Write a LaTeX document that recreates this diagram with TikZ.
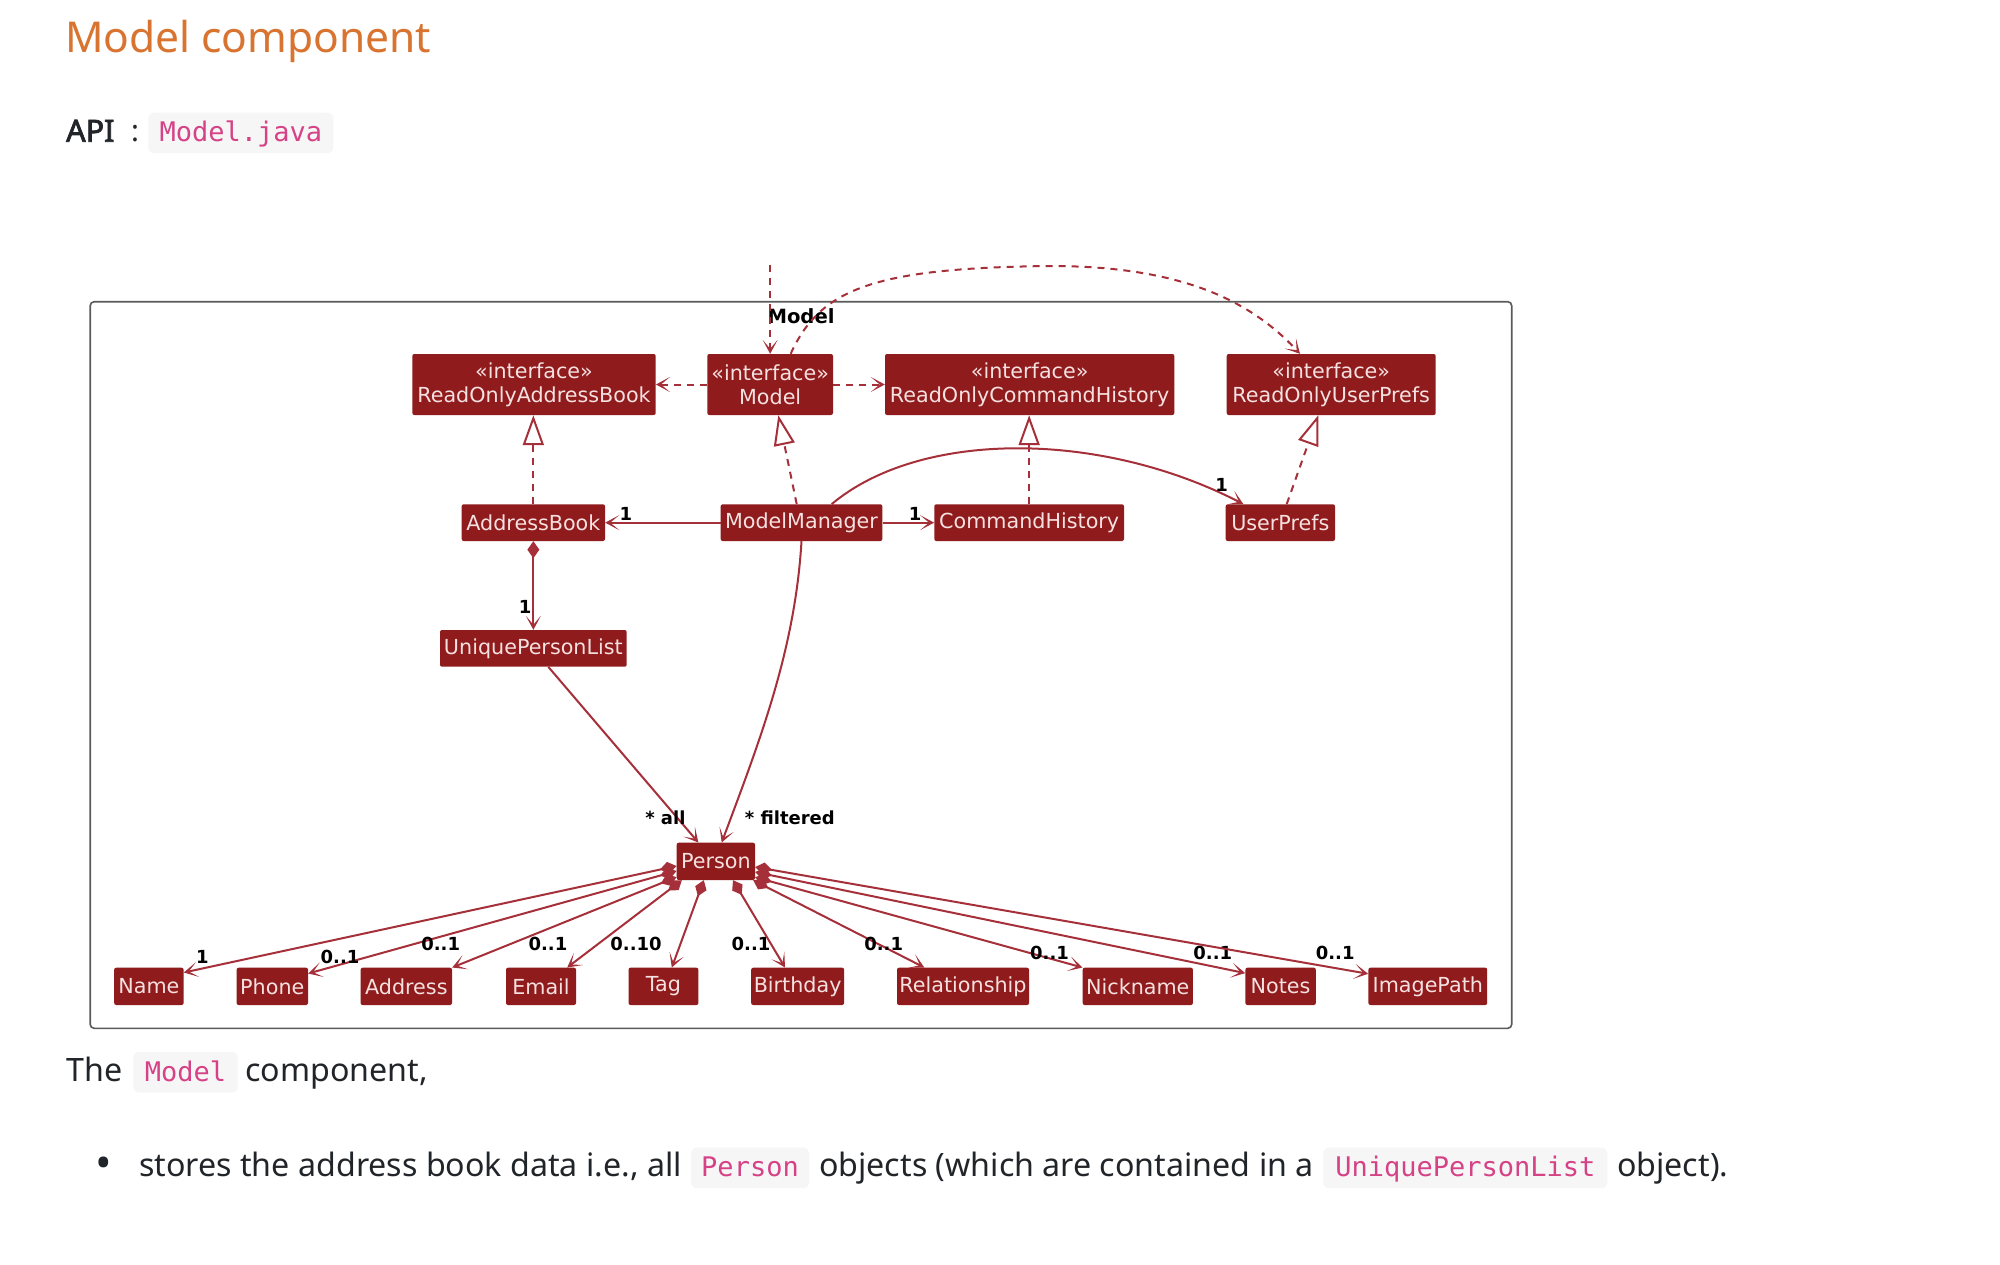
\documentclass[tikz,border=0pt]{standalone}
\usepackage{fontspec}
\setmainfont{Noto Sans}[AutoFakeBold=2.5]
\newfontfamily\umlfont{DejaVu Sans}
\newfontfamily\codefont{DejaVu Sans Mono}
\usetikzlibrary{arrows.meta,calc}

\definecolor{boxfill}{RGB}{143,27,28}
\definecolor{boxtext}{RGB}{246,224,224}
\definecolor{lineclr}{RGB}{166,48,58}
\definecolor{frameclr}{RGB}{90,90,90}
\definecolor{titleclr}{RGB}{217,115,48}
\definecolor{bodyclr}{RGB}{33,37,41}
\definecolor{codeclr}{RGB}{214,66,134}
\definecolor{codebg}{RGB}{246,246,247}

\tikzset{
  page/.style={inner sep=0pt, text=bodyclr, font=\fontsize{32.2}{38}\selectfont},
  code/.style={fill=codebg, rounded corners=6pt, text=codeclr, inner xsep=0pt, inner ysep=4pt,
    text height=25pt, text depth=7.5pt, anchor=base, font=\codefont\fontsize{27}{32}\selectfont},
  cls/.style={fill=boxfill, text=boxtext, rounded corners=2pt, inner sep=0pt,
    minimum height=36.7pt, font=\umlfont\fontsize{20.7}{24.3}\selectfont},
  iface/.style={cls, minimum height=61pt, align=center},
  mult/.style={inner sep=1pt, text=black, font=\umlfont\bfseries\fontsize{18}{20}\selectfont},
  conn/.style={draw=lineclr, line width=2pt},
  dep/.style={conn, dash pattern=on 7pt off 6pt, -{Stealth[length=14pt,width=15pt,inset=9pt]}},
  assoc/.style={conn, -{Stealth[length=14pt,width=15pt,inset=9pt]}},
  realize/.style={conn, dash pattern=on 7pt off 6pt, -{Triangle[length=30pt,width=21pt,fill=white]}},
  comp/.style={conn, {Diamond[length=17pt,width=12pt]}-{Stealth[length=14pt,width=15pt,inset=9pt]}}
}

\begin{document}
\begin{tikzpicture}[x=1pt,y=-1pt]
\useasboundingbox (0,0) rectangle (2000,1264);
\fill[white] (0,0) rectangle (2000,1264);

% page text
\node[page, anchor=base west, text=titleclr, font=\fontsize{42.5}{50}\selectfont] (title) at (65,52.3) {Model component};
\node[page, anchor=base west, font=\bfseries\fontsize{30.5}{36}\selectfont] (api) at (66,141.7) {API};
\node[page, anchor=base west, font=\fontsize{29.5}{36}\selectfont] (apiColon) at (131,141.7) {:};
\node[code, minimum width=185pt] (apiCode) at (240.8,141.7) {Model.java};

\node[page, anchor=base west] (the) at (66,1081) {The};
\node[code, minimum width=104.4pt] (modelCode) at (185.5,1081) {Model};
\node[page, anchor=base west] (component) at (245,1081) {component,};

\node[page, font=\fontsize{44}{50}\selectfont] (bullet) at (103.3,1168) {•};
\node[page, anchor=base west] (stores) at (139,1176.7) {stores the address book data i.e., all};
\node[code, minimum width=118pt] (personCode) at (750,1176.7) {Person};
\node[page, anchor=base west] (objects) at (819,1176.7) {objects (which are contained in a};
\node[code, minimum width=284pt] (uplCode) at (1465.3,1176.7) {UniquePersonList};
\node[page, anchor=base west] (object) at (1617,1176.7) {object).};

% package frame
\draw[frameclr, line width=1.6pt, rounded corners=4pt] (90.2,301.7) rectangle (1511.7,1028.3);
\node[anchor=base, inner sep=0pt, font=\umlfont\bfseries\fontsize{19.6}{22}\selectfont] (pkgName) at (801,323) {Model};

% interfaces
\node[iface, minimum width=243.4pt] (roab) at (534,384.5) {«interface»\\ReadOnlyAddressBook};
\node[iface, minimum width=125.7pt] (model) at (770.15,384.5) {«interface»\\Model};
\node[iface, minimum width=289.3pt] (roch) at (1029.65,384.5) {«interface»\\ReadOnlyCommandHistory};
\node[iface, minimum width=209pt] (roup) at (1331.2,384.5) {«interface»\\ReadOnlyUserPrefs};

% classes
\node[cls, minimum width=143.3pt] (ab) at (533.35,522.65) {AddressBook};
\node[cls, minimum width=161.6pt] (mm) at (801.5,522.65) {ModelManager};
\node[cls, minimum width=189.7pt] (ch) at (1029.15,522.65) {CommandHistory};
\node[cls, minimum width=109.3pt] (up) at (1280.35,522.65) {UserPrefs};
\node[cls, minimum width=186.7pt] (upl) at (533.35,648.35) {UniquePersonList};
\node[cls, minimum width=78.3pt, minimum height=37.3pt] (person) at (715.85,861.35) {Person};

% attributes
\node[cls, minimum width=69.4pt, minimum height=37.3pt] (name) at (148.9,986.35) {Name};
\node[cls, minimum width=71.4pt, minimum height=37.3pt] (phone) at (272.3,986.35) {Phone};
\node[cls, minimum width=91.4pt, minimum height=37.3pt] (address) at (406.3,986.35) {Address};
\node[cls, minimum width=70pt, minimum height=37.3pt] (email) at (541,986.35) {Email};
\node[cls, minimum width=69.9pt, minimum height=37.3pt] (tag) at (663.45,986.35) {Tag};
\node[cls, minimum width=92.9pt, minimum height=37.3pt] (birthday) at (797.65,986.35) {Birthday};
\node[cls, minimum width=132pt, minimum height=37.3pt] (relationship) at (963,986.35) {Relationship};
\node[cls, minimum width=110.2pt, minimum height=37.3pt] (nickname) at (1137.8,986.35) {Nickname};
\node[cls, minimum width=70.4pt, minimum height=37.3pt] (notes) at (1280.6,986.35) {Notes};
\node[cls, minimum width=118.8pt, minimum height=37.3pt] (imagePath) at (1427.8,986.35) {ImagePath};

% dependencies
\coordinate (modelIn) at (770.15,265);
\coordinate (arcTop) at (1050,266);
\draw[dep] (modelIn) -- (model.north);
\draw[dep] ($(model.north)+(20.5,0)$) .. controls (820,290) and (870,268) .. (arcTop)
  .. controls (1180,266) and (1250,300) .. ($(roup.north)+(-31.2,0)$);
\draw[dep] (model.west) -- (roab.east);
\draw[dep] (model.east) -- (roch.west);

% realizations
\draw[realize] (ab.north) -- (ab.north |- roab.south);
\draw[realize] ($(mm.north)+(-4.8,0)$) -- ($(model.south)+(8.15,0)$);
\draw[realize] (ch.north) -- (ch.north |- roch.south);
\draw[realize] ($(up.north)+(6.35,0)$) -- ($(roup.south)+(-12.9,0)$);

% associations
\draw[assoc] (mm.west) -- (ab.east) node[mult, pos=0.82, anchor=south] (mAB) {1};
\draw[assoc] (mm.east) -- (ch.west) node[mult, pos=0.63, anchor=south] (mCH) {1};
\draw[assoc] ($(mm.north)+(30.2,0)$) .. controls (920,430) and (1100,430) .. ($(up.north)+(-37,0)$)
  node[mult, pos=0.95, anchor=south] (mUP) {1};
\draw[comp] (ab.south) -- (upl.north) node[mult, pos=0.74, anchor=east] (mUPL) {1};
\draw[assoc] ($(upl.south)+(15,0)$) -- ($(person.north)+(-17.5,0)$)
  node[mult, pos=0.86, xshift=-12pt] (mAll) {* all};
\draw[assoc] (mm.south) .. controls (795,650) and (760,740) .. ($(person.north)+(5.85,0)$)
  node[mult, pos=0.92, anchor=west, xshift=12pt] (mFiltered) {* filtered};

% person fields
\draw[comp] ($(person.west)+(0,4.65)$) -- ($(name.north east)+(0,5)$) node[mult] (mName) at (202.4,956.7) {1};
\draw[comp] ($(person.west)+(0,9.65)$) -- ($(phone.north east)+(0,6)$) node[mult] (mPhone) at (340,957.3) {0..1};
\draw[comp] ($(person.west)+(0,15.65)$) -- (address.north east) node[mult] (mAddress) at (440.7,944.3) {0..1};
\draw[comp] ($(person.south west)+(5.3,0)$) -- ($(email.north east)+(-9,0)$) node[mult] (mEmail) at (547.9,944.3) {0..1};
\draw[comp] ($(person.south west)+(27.3,0)$) -- ($(tag.north)+(8.35,0)$) node[mult] (mTag) at (636,944.3) {0..10};
\draw[comp] ($(person.south)+(17.15,0)$) -- ($(birthday.north)+(-12.65,0)$) node[mult] (mBirthday) at (751,944.3) {0..1};
\draw[comp] ($(person.south east)+(-2,0)$) -- ($(relationship.north west)+(27.5,0)$) node[mult] (mRelationship) at (883.7,944.3) {0..1};
\draw[comp] ($(person.south east)+(0,-3)$) -- (nickname.north west) node[mult] (mNickname) at (1049.5,953.3) {0..1};
\draw[comp] ($(person.east)+(0,10.65)$) -- ($(notes.north west)+(0,5.6)$) node[mult] (mNotes) at (1212.8,953.3) {0..1};
\draw[comp] ($(person.east)+(0,5.65)$) -- ($(imagePath.north west)+(0,6.3)$) node[mult] (mImagePath) at (1335.2,953.3) {0..1};
\end{tikzpicture}
\end{document}
